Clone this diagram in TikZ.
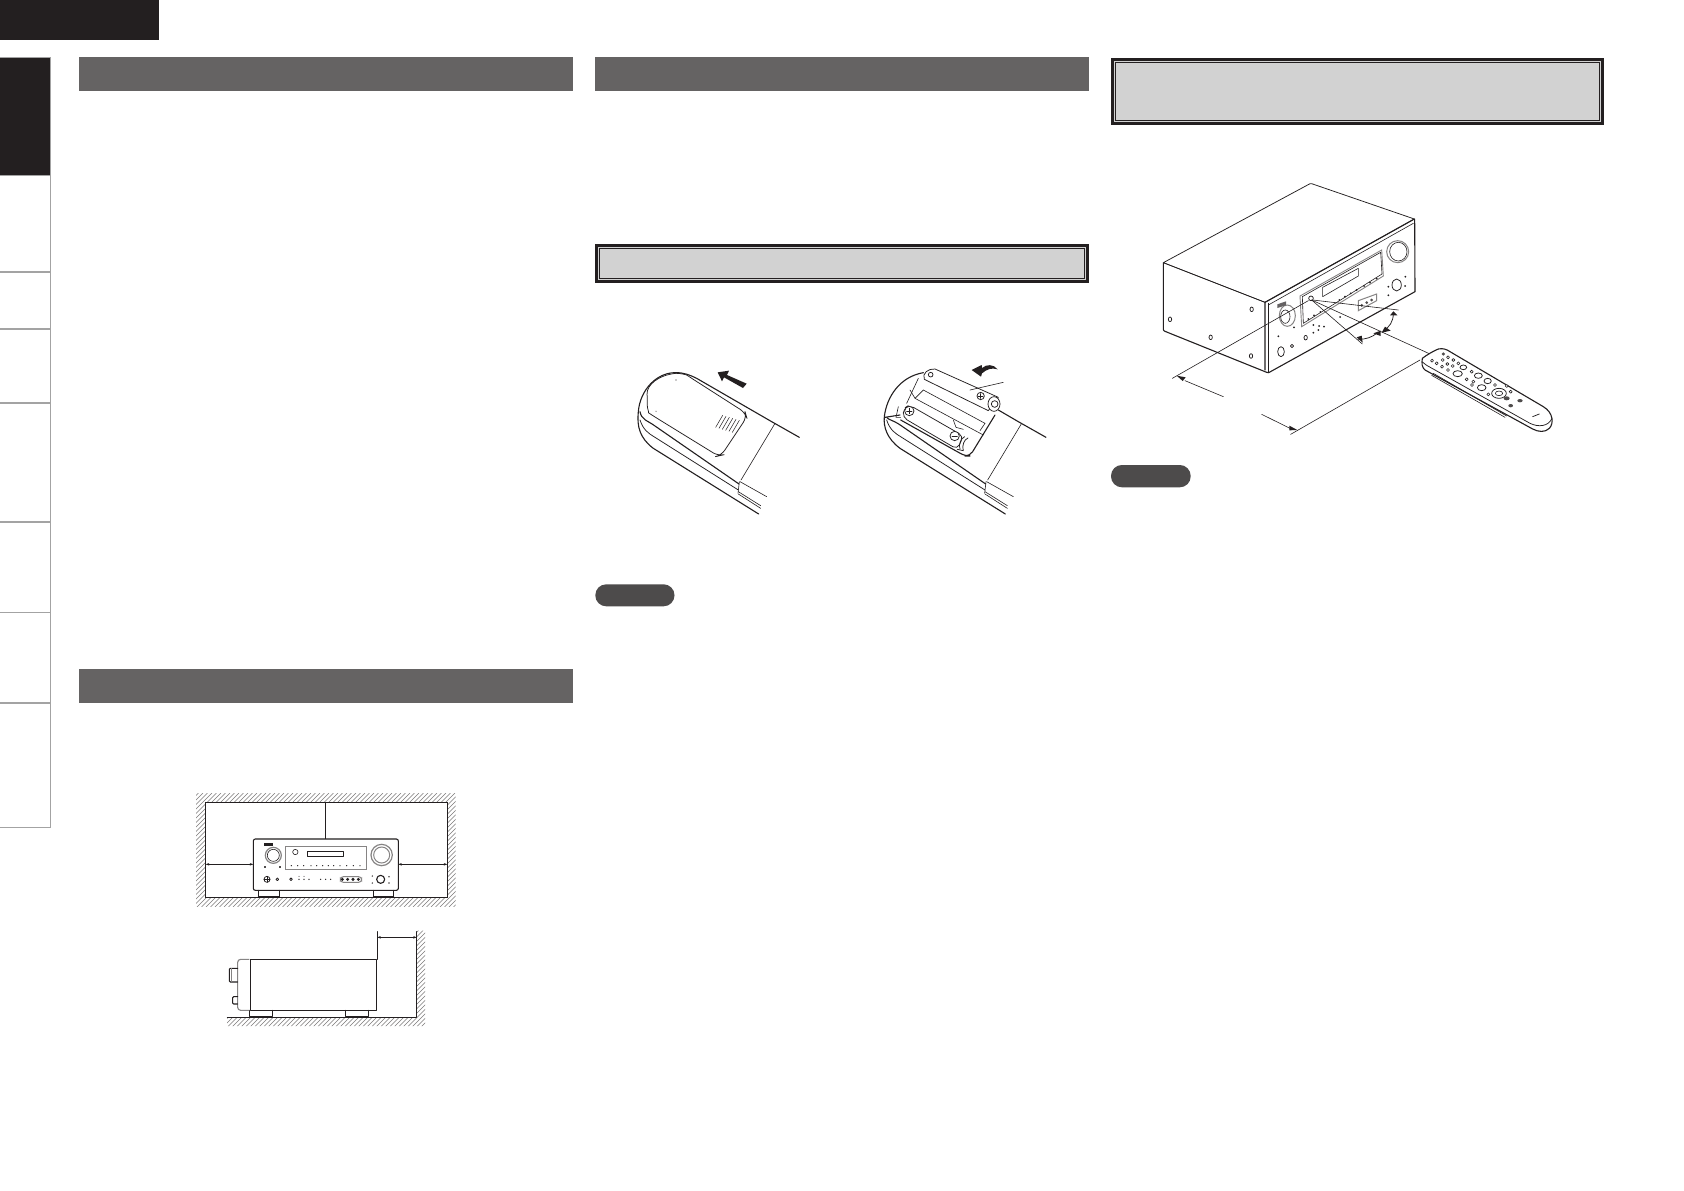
\documentclass[tikz,border=0pt]{standalone}
\usetikzlibrary{arrows.meta}
\definecolor{ink}{HTML}{231F20}
\definecolor{barg}{HTML}{656363}
\definecolor{pillg}{HTML}{4D4B4B}
\definecolor{lightg}{HTML}{D2D2D2}
\definecolor{sideg}{HTML}{A3A3A3}
\tikzset{
 hatchline/.style={draw=ink!60,line width=.6pt},
 thk/.style={draw=ink,line width=1.1pt,line join=round,line cap=round},
 med/.style={draw=ink,line width=.75pt,line join=round,line cap=round},
 thn/.style={draw=ink,line width=.6pt,line join=round,line cap=round},
 grayl/.style={draw=ink!55,line width=.7pt},
 dim/.style={draw=ink,line width=.65pt,{Stealth[length=3.5pt,width=2.5pt]}-{Stealth[length=3.5pt,width=2.5pt]}},
 zoomed/.style={scale=1/3},
}
\newcommand{\titlebox}[4]{%
 \fill[ink] (#1,#2) rectangle (#3,#4);
 \fill[lightg] (#1+3,#2+3) rectangle (#3-3,#4-3);
 \draw[ink,line width=.9pt] (#1+4.7,#2+4.7) rectangle (#3-4.7,#4-4.7);
}
\begin{document}
\begin{tikzpicture}[x=1pt,y=-1pt]
\path[use as bounding box,fill=white] (0,0) rectangle (1684,1191);
% top tab and side tabs
\fill[ink] (0,0) rectangle (159,40);
\fill[ink] (0,57) rectangle (50,175.5);
\draw[sideg,line width=1pt] (0,57.3) -- (50.5,57.3) -- (50.5,827) -- (0,827);
\foreach \yy in {175.5,272,329,403,522,703}{\draw[sideg,line width=1.2pt] (0,\yy) -- (50.5,\yy);}
\draw[sideg,line width=.7pt] (0,612) -- (50.5,612);
% grey title bars
\fill[barg] (79,57) rectangle (573,91);
\fill[barg] (595,57) rectangle (1089,91);
\fill[barg] (79,669) rectangle (573,703);
% framed boxes
\titlebox{1111}{57.5}{1604}{125}
\titlebox{595}{244}{1089}{283}
% pills
\fill[pillg,rounded corners=10.9pt] (595.3,584.3) rectangle (674.5,606.3);
\fill[pillg,rounded corners=10.9pt] (1111,465) rectangle (1190.7,487.3);

% ---- enclosure front view
\begin{scope}
\clip (196,793.3) rectangle (455.7,906.7);
\foreach \i in {0,4.5,...,380}{\draw[hatchline] (80+\i,907) -- (194+\i,793);}
\end{scope}
\draw[fill=white,draw=ink,line width=1pt] (205.7,802.7) rectangle (447.3,897.3);
\begin{scope}[shift={(170,780)},zoomed]
 \draw[thk,rounded corners=2pt,fill=white] (250,177) rectangle (685,331);
 \draw[thk] (265,331) -- (265,350) (328,331) -- (328,350) (265,349)--(328,349);
 \draw[thk] (610,331) -- (610,350) (671,331) -- (671,350) (610,349)--(671,349);
 \draw[grayl,line width=1pt] (347,198) rectangle (589,268);
 \draw[med] (412,214) rectangle (521,230);
 \draw[thn] (376,216) circle (8);
 \fill[ink] (282,189) rectangle (309,198);
 \draw[grayl,line width=1.2pt] (310,226) circle (24);
 \draw[thn] (310,226) circle (18);
 \draw[grayl,line width=1.2pt] (635,225) circle (32);
 \draw[grayl,line width=1pt] (635,225) circle (24);
 \foreach \xx in {364,383,401,423,440,458,475,491,510,530,550,570}{\fill[ink] (\xx,257) circle (2);}
 \fill[ink!80] (283,258) rectangle (288,263);
 \fill[ink!80] (328,258) rectangle (333,263);
 \draw[med] (291,298) circle (9);
 \draw[thn] (282,298) -- (300,298) (291,289) -- (291,307);
 \draw[med] (322,298) circle (4);
 \draw[med] (363,298) circle (4);
 \foreach \xx in {387,402,417}{\fill[ink] (\xx,298) circle (2.2);}
 \foreach \xx in {387,402}{\fill[ink] (\xx,289) circle (1.5);}
 \foreach \xx in {452,467,482}{\fill[ink] (\xx,298) circle (2.2);}
 \draw[grayl,line width=1pt,rounded corners=3pt] (511,290) rectangle (575,307);
 \foreach \xx in {517,533,549,565}{\fill[ink] (\xx,298) circle (5);}
 \draw[thk] (632,298) circle (12);
 \foreach \xx/\yy in {607/288,657/290,607/309,657/309}{\fill[ink!80] (\xx,\yy) circle (2.5);}
\end{scope}
\draw[dim,line width=.9pt,-] (325.7,802.7) -- (325.7,839);
\draw[dim] (205.7,864.3) -- (253.3,864.3);
\draw[dim] (398.3,864.3) -- (447.3,864.3);

% ---- enclosure side view
\begin{scope}
\clip (227,1017.3) -- (416.7,1017.3) -- (416.7,930.7) -- (425,930.7) -- (425,1026) -- (227,1026) -- cycle;
\foreach \i in {0,4.5,...,300}{\draw[hatchline] (130+\i,1030) -- (240+\i,920);}
\end{scope}
\begin{scope}[shift={(170,780)},zoomed]
 \draw[thk] (172,712) -- (740,712) -- (740,455);
 \draw[thk] (241,538) rectangle (620,691);
 \draw[thk] (622,538) -- (622,455);
 \draw[thk] (238,691) -- (238,710) -- (308,710) -- (308,691);
 \draw[thk] (526,691) -- (526,710) -- (596,710) -- (596,691);
 \draw[grayl,line width=1.1pt,rounded corners=3pt] (238,538) -- (203,538) -- (203,691) -- (238,691);
 \draw[thk,rounded corners=1pt] (203,565) -- (178,565) -- (178,606) -- (203,606);
 \draw[grayl] (185,565) -- (185,606);
 \draw[thk,rounded corners=1pt] (203,650) -- (188,650) -- (188,672) -- (203,672);
 \draw[dim] (622,472) -- (740,472);
\end{scope}

% ---- remote, closed cover
\begin{scope}[shift={(590,340)},zoomed]
 \draw[thk] (506,522) -- (190,325) .. controls (150,295) and (140,260) .. (145,215) .. controls (150,150) and (200,98) .. (255,98) .. controls (280,97) and (300,105) .. (320,115) -- (545,245);
 \draw[thk] (545,245) -- (628,292);
 \draw[thk] (150,215) .. controls (155,240) and (170,240) .. (195,258) -- (447,432);
 \draw[thn] (450,425) -- (530,470);
 \draw[med] (150,240) .. controls (160,270) and (175,280) .. (195,292) -- (445,450);
 \draw[thn] (445,455) -- (512,497) (445,462) -- (512,505);
 \draw[thn] (448,425) -- (444,460);
 \draw[thn] (555,250) -- (453,420);
 \draw[med,rounded corners=6pt] (258,100) .. controls (205,105) and (170,135) .. (172,180) .. controls (172,205) and (178,220) .. (190,228) -- (385,348) -- (394,346) -- (470,232) -- (466,218) -- (305,115) .. controls (290,105) and (275,100) .. (258,100);
 \foreach \k in {0,...,5}{\draw[thn,line width=.5pt] (377+\k*10,262+\k*3) -- (398+\k*10,226+\k*3);}
 \fill[ink] (258,120) circle (2);
 \fill[ink!60] (198,214) circle (2);
 \fill[ink] (383,97) -- (417,92) -- (411,105) -- (470,131) -- (459,144) -- (402,112) -- (396,124) -- cycle;
\end{scope}

% ---- remote, batteries
\begin{scope}[shift={(590,340)},zoomed]
 \draw[thk] (1246,522) -- (930,325) .. controls (890,295) and (880,260) .. (883,230) .. controls (890,170) and (930,110) .. (1000,98);
 \draw[thk] (1225,210) -- (1285,245) -- (1368,292);
 \draw[thk] (890,232) .. controls (895,240) and (910,240) .. (935,258) -- (1187,432);
 \draw[thn] (1190,425) -- (1270,470);
 \draw[med] (890,240) .. controls (900,270) and (915,280) .. (935,292) -- (1185,450);
 \draw[thn] (1185,455) -- (1252,497) (1185,462) -- (1252,505);
 \draw[thn] (1188,425) -- (1184,460);
 \draw[thn] (1295,250) -- (1193,420);
 % compartment
 \draw[thk,rounded corners=5pt] (932,240) -- (1125,348) -- (1140,348) -- (1215,225);
 \draw[thk] (885,232) -- (930,225);
 \draw[thn] (925,200) -- (918,232) -- (932,232);
 \draw[thn] (960,150) -- (975,175) -- (1180,285);
 \draw[thn] (985,115) -- (950,190);
 \draw[thn] (1000,150) -- (1185,250) -- (1170,272);
 \draw[thn] (975,175) -- (1000,150);
 \draw[thn] (1090,240) -- (1098,262) -- (1120,268);
 % lower battery
 \draw[med,fill=white,rounded corners=5pt] (958,195) -- (1120,288) -- (1102,328) -- (938,232) -- (942,205) -- cycle;
 \draw[med,fill=white] (958,213) circle (14);
 \draw[med] (950,213) -- (966,213) (958,205) -- (958,221);
 \draw[med,fill=white] (1094,288) circle (14);
 \draw[med] (1086,288) -- (1102,288);
 \draw[med] (1124,290) .. controls (1112,295) and (1105,315) .. (1110,327);
 \draw[med] (1134,294) .. controls (1122,298) and (1115,318) .. (1120,332) -- (1102,328);
 % upper battery
 \draw[med,fill=white] (1035,87) -- (1225,172) -- (1195,212) -- (1003,118) .. controls (995,100) and (1015,85) .. (1035,87);
 \draw[med,fill=white] (1212,192) ellipse (18 and 22);
 \draw[med] (1214,192) circle (10);
 \draw[med,fill=white] (1172,168) circle (11);
 \draw[med] (1165,168) -- (1179,168) (1172,161) -- (1172,175);
 \draw[med] (1022,104) circle (7);
 \draw[thn] (1140,150) -- (1240,127);
 % curved arrow
 \fill[ink] (1145,90) -- (1175,75) -- (1176,84) .. controls (1190,72) and (1210,72) .. (1223,88) .. controls (1205,82) and (1190,88) .. (1176,100) -- (1173,110) -- cycle;
\end{scope}

% ---- perspective receiver
\begin{scope}[shift={(1140,170)},zoomed]
 \draw[med,rounded corners=1pt] (70,278) -- (512,40) -- (823,147) -- (375,397) -- cycle;
 \draw[thk,rounded corners=1pt] (70,278) -- (70,482) -- (380,607);
 \draw[thn] (70,278) -- (375,397);
 \draw[thk] (375,397) -- (823,147);
 \draw[thk] (386,608) -- (825,365) -- (824,147);
 \draw[thk] (375,397) -- (375,600) (380,607) -- (386,608);
 \draw[thn] (386,400) -- (386,605);
 \draw[thn] (385,405) -- (820,160);
 % display
 \draw[grayl,line width=.9pt] (480,378) -- (725,240) -- (730,318) -- (485,470) -- cycle;
 \draw[thn] (487,380) -- (722,247) -- (726,312) -- (490,460) -- cycle;
 \draw[thn] (548,352) -- (655,295) -- (655,318) -- (548,380) -- cycle;
 \draw[grayl,line width=1pt] (773,245) ellipse (33 and 33);
 \draw[thn] (775,245) ellipse (26 and 28);
 \draw[med] (770,345) ellipse (14 and 18);
 \draw[grayl,line width=1pt] (442,437) ellipse (24 and 32);
 \draw[thn] (436,440) ellipse (14 and 20);
 \fill[ink!70] (412,403) -- (438,394) -- (438,406) -- (412,414) -- cycle;
 \foreach \xx/\yy in {335/418,90/448,212/502,333/558}{\draw[med] (\xx,\yy) ellipse (5 and 7);}
 \foreach \xx/\yy in {505/447,522/436,541/426,598/390,615/380,632/370,650/360,672/348,690/338,710/326,745/350,796/320,795/348,745/376,415/499,462/472,600/441,520/488,535/480,552/470,520/465,537/468}{\fill[ink] (\xx,\yy) circle (3);}
 \draw[grayl,line width=1pt] (655,392) -- (710,372) -- (710,392) -- (655,422) -- cycle;
 \foreach \xx/\yy in {665/406,680/398,695/390}{\fill[ink!80] (\xx,\yy) circle (4.5);}
 \draw[med] (423,545) ellipse (10 and 15);
 \draw[med] (456,528) circle (5);
 \draw[med] (497,503) ellipse (5 and 7);
 \draw[med] (513,385) circle (7);
 % beams
 \draw[thn] (518,390) -- (775,420);
 \draw[thn] (515,390) -- (667,522);
 \draw[thn] (515,390) -- (870,552);
 \draw[thn] (505,392) -- (97,625);
 \draw[med] (760,430) .. controls (760,455) and (748,472) .. (730,482);
 \draw[med] (655,508) .. controls (678,508) and (695,502) .. (710,490);
 \fill[ink] (760,424) -- (750,436) -- (772,436) -- cycle;
 \fill[ink] (735,470) -- (725,488) -- (752,482) -- cycle;
 \fill[ink] (722,482) -- (700,490) -- (722,498) -- cycle;
 \fill[ink] (650,502) -- (665,497) -- (668,518) -- cycle;
\end{scope}

% ---- perspective receiver: distance lines and remote
\begin{scope}[shift={(1160,280)},zoomed]
 \draw[thn] (780,240) -- (392,463);
 \draw[thn] (305,403) -- (390,445);
 \fill[ink] (412,450) -- (388,437) -- (388,451) -- cycle;
 \draw[thn] (75,302) -- (190,350);
 \fill[ink] (50,287) -- (77,292) -- (68,303) -- cycle;
 % remote body
 \draw[thk,fill=white] (835,207) .. controls (848,204) and (860,208) .. (870,215) -- (1150,380) .. controls (1180,398) and (1182,430) .. (1168,445) .. controls (1155,458) and (1135,456) .. (1118,447) -- (795,270) .. controls (785,262) and (785,250) .. (787,235) .. controls (800,225) and (820,213) .. (835,207) -- cycle;
 \draw[med] (787,246) -- (800,256) -- (1110,430) .. controls (1135,442) and (1165,440) .. (1176,415);
 \draw[thn] (820,280) -- (1040,408);
 \draw[thn] (815,286) -- (1035,412);
 % buttons
 \foreach \xx/\yy in {816/242,830/250,848/240,864/232,880/240,846/260,862/252,878/258,895/250,864/270,935/275,920/298,940/305,936/315,985/343,1005/315,1040/318,1052/335}{\draw[thn,fill=white] (\xx,\yy) circle (4.5);}
 \draw[med,fill=white] (893,281) ellipse (14 and 9);
 \draw[med,fill=white] (910,262) ellipse (10 and 7);
 \draw[med,fill=white] (955,287) ellipse (12 and 8);
 \draw[med,fill=white] (983,303) ellipse (11 and 8);
 \draw[med,fill=white] (1017,340) ellipse (22 and 15);
 \draw[thn] (1017,340) ellipse (11 and 7);
 \draw[med,fill=white] (965,323) ellipse (13 and 9);
 \fill[ink!80] (850,222) circle (5);
 \fill[ink!80] (1040,355) ellipse (9 and 6);
 \fill[ink!80] (1080,362) ellipse (8 and 5);
 \fill[ink!80] (1052,377) ellipse (7 and 5);
 \draw[med] (1118,410) -- (1138,402);
\end{scope}
\end{tikzpicture}
\end{document}
